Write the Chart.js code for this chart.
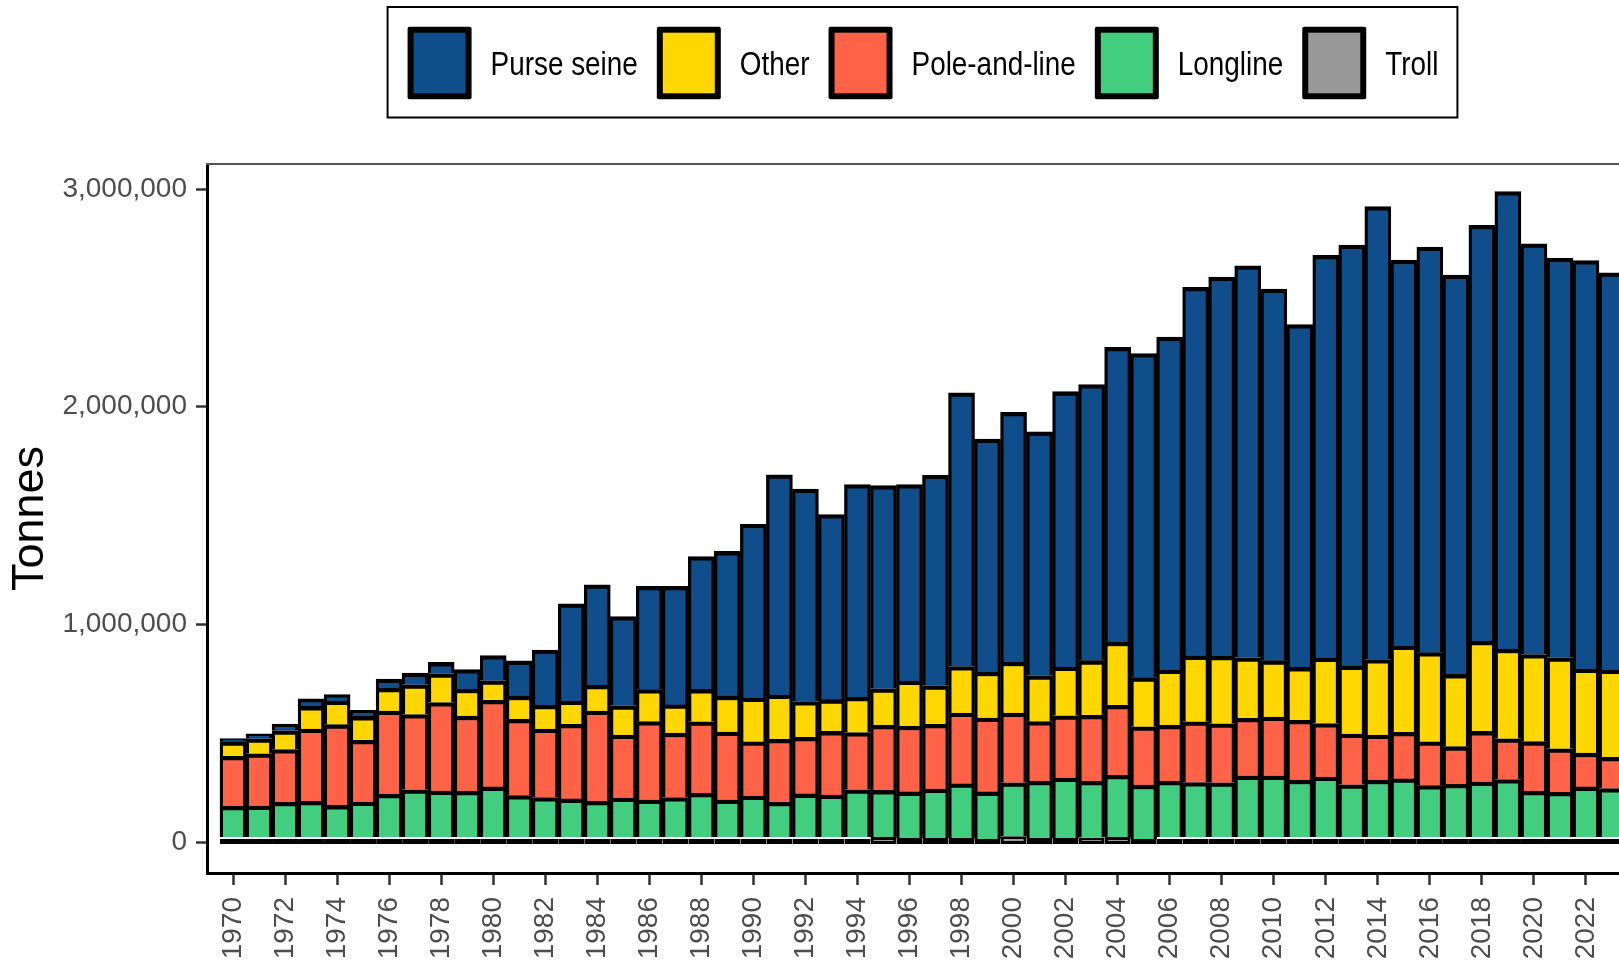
<!DOCTYPE html>
<html>
<head>
<meta charset="utf-8">
<script src="https://cdn.jsdelivr.net/npm/chart.js@4.4.1/dist/chart.umd.min.js"></script>
<style>
  html, body { margin: 0; padding: 0; background: #ffffff; overflow: hidden; }
  #wrap { position: relative; width: 1660px; height: 966px; }
  canvas { display: block; }
</style>
</head>
<body>
<div id="wrap"><canvas id="chart" width="1660" height="966"></canvas></div>
<script>
// ---- data (tonnes) ----
const years = [1970,1971,1972,1973,1974,1975,1976,1977,1978,1979,
               1980,1981,1982,1983,1984,1985,1986,1987,1988,1989,
               1990,1991,1992,1993,1994,1995,1996,1997,1998,1999,
               2000,2001,2002,2003,2004,2005,2006,2007,2008,2009,
               2010,2011,2012,2013,2014,2015,2016,2017,2018,2019,
               2020,2021,2022,2023];

const xTickYears = [1970,1972,1974,1976,1978,1980,1982,1984,1986,1988,1990,1992,1994,
                    1996,1998,2000,2002,2004,2006,2008,2010,2012,2014,2016,2018,2020,2022];

const yTickValues = [0, 1000000, 2000000, 3000000];

const purseSeine = [14000,23000,31000,35000,29000,28000,43000,54000,52000,90000,
                    116000,162000,254000,446000,462000,410000,475000,545000,610000,665000,
                    799000,1012000,976000,850000,977000,934000,903000,967000,1258000,1071000,
                    1148000,1120000,1265000,1269000,1355000,1489000,1530000,1694000,1742000,1801000,
                    1707000,1575000,1850000,1935000,2081000,1773000,1863000,1835000,1911000,2102000,
                    1887000,1836000,1876000,1825000];

const other = [67000,69000,86000,104000,109000,110000,104000,136000,132000,124000,
               90000,106000,109000,107000,118000,135000,147000,130000,149000,165000,
               201000,203000,164000,146000,162000,168000,207000,177000,214000,211000,
               234000,211000,224000,251000,290000,226000,254000,302000,310000,278000,
               259000,243000,301000,312000,347000,396000,410000,332000,414000,412000,
               400000,418000,387000,401000];

const poleAndLine = [230000,240000,243000,332000,371000,283000,383000,346000,407000,345000,
                     398000,351000,315000,343000,415000,289000,360000,296000,328000,312000,
                     249000,290000,260000,292000,263000,299000,302000,298000,325000,339000,
                     320000,274000,286000,303000,322000,268000,257000,279000,271000,265000,
                     271000,275000,246000,233000,207000,214000,201000,173000,233000,187000,
                     228000,200000,155000,143000];

const longline = [141000,142000,159000,164000,145000,161000,196000,217000,211000,210000,
                  230000,190000,181000,175000,164000,179000,170000,181000,201000,170000,
                  188000,159000,198000,193000,217000,214000,212000,225000,249000,216000,
                  246000,261000,276000,258000,283000,247000,256000,250000,249000,280000,
                  280000,261000,275000,240000,261000,267000,236000,242000,252000,264000,
                  210000,205000,230000,223000];

const troll = [0,0,0,0,0,0,0,0,0,0,
               0,0,0,0,0,0,0,0,3000,8000,
               6000,7000,6000,5000,9000,23000,18000,18000,18000,14000,
               26000,18000,18000,21000,23000,14000,8000,8000,8000,8000,
               8000,8000,8000,8000,8000,8000,8000,8000,8000,8000,
               8000,8000,8000,8000];

// ---- styling ----
const FONT = "'Liberation Sans', Arial, Helvetica, sans-serif";
const COLORS = {
  'Purse seine': '#104E8B',
  'Other': '#FFD700',
  'Pole-and-line': '#FF6347',
  'Longline': '#43CD80',
  'Troll': '#999999'
};

function points(arr) { return years.map((yr, i) => ({ x: yr, y: arr[i] })); }

const segBorder = { top: 4.3, left: 3.3, right: 3.3, bottom: 0 };

function barSet(label, arr, extra) {
  return Object.assign({
    label: label,
    data: points(arr),
    backgroundColor: COLORS[label],
    borderColor: '#000000',
    borderWidth: segBorder,
    borderSkipped: false,
    categoryPercentage: 1.0,
    barPercentage: 1.0
  }, extra || {});
}

// stack order bottom -> top ; first dataset is drawn last (on top)
const datasets = [
  barSet('Troll', troll, { base: -9000, minBarLength: 5, inflateAmount: 0,
                           borderWidth: { top: 3, left: 3.3, right: 3.3, bottom: 3 } }),
  barSet('Longline', longline),
  barSet('Pole-and-line', poleAndLine),
  barSet('Other', other),
  barSet('Purse seine', purseSeine)
];

// legend drawn as a boxed key above the panel, centred on the panel
const boxedLegend = {
  id: 'boxedLegend',
  afterDraw(chart) {
    const ctx = chart.ctx;
    const ca = chart.chartArea;
    const items = chart.data.datasets.slice().reverse();
    const fontPx = 34, sx = 0.82;
    const sw = 64, sh = 72.6, gapA = 19, gapB = 19, padL = 20, padR = 19;
    ctx.save();
    ctx.font = fontPx + 'px ' + FONT;
    const widths = items.map(d => ctx.measureText(d.label).width * sx);
    let total = padL + padR;
    widths.forEach((w, i) => { total += sw + gapA + w + (i < items.length - 1 ? gapB : 0); });
    const cx = (ca.left + ca.right) / 2;
    const boxL = cx - total / 2, boxT = 7, boxH = 110.5;
    ctx.lineWidth = 2;
    ctx.strokeStyle = '#000000';
    ctx.strokeRect(boxL, boxT, total, boxH);
    let x = boxL + padL;
    const sy = 26.7, cy = 65.5;
    items.forEach((d, i) => {
      ctx.fillStyle = '#000000';
      ctx.beginPath();
      if (ctx.roundRect) ctx.roundRect(x, sy, sw, sh, 2); else ctx.rect(x, sy, sw, sh);
      ctx.fill();
      ctx.fillStyle = d.backgroundColor;
      ctx.fillRect(x + 6, sy + 6, sw - 12, sh - 12);
      x += sw + gapA;
      ctx.save();
      ctx.translate(x, cy);
      ctx.scale(sx, 1);
      ctx.fillStyle = '#000000';
      ctx.textAlign = 'left';
      ctx.textBaseline = 'middle';
      ctx.fillText(d.label, 0, 0);
      ctx.restore();
      x += widths[i] + gapB;
    });
    ctx.restore();
  }
};

// thin top edge of the panel
const panelTop = {
  id: 'panelTop',
  afterDraw(chart) {
    const ctx = chart.ctx, ca = chart.chartArea;
    ctx.save();
    ctx.strokeStyle = '#555555';
    ctx.lineWidth = 2;
    ctx.beginPath();
    ctx.moveTo(ca.left - 1, ca.top);
    ctx.lineTo(ca.right, ca.top);
    ctx.stroke();
    ctx.restore();
  }
};

new Chart(document.getElementById('chart'), {
  type: 'bar',
  data: { datasets: datasets },
  options: {
    responsive: false,
    animation: false,
    devicePixelRatio: 1,
    layout: { padding: { top: 164, right: 22, left: 0, bottom: 0 } },
    plugins: {
      legend: { display: false },
      tooltip: { enabled: false }
    },
    scales: {
      x: {
        type: 'linear',
        stacked: true,
        min: 1969,
        max: 2024,
        offset: false,
        afterBuildTicks: s => { s.ticks = xTickYears.map(v => ({ value: v })); },
        afterFit: s => { s.height = 93; },
        grid: { display: true, offset: false, drawOnChartArea: false, drawTicks: true, tickLength: 12, tickColor: '#333333', tickWidth: 2.5 },
        border: { display: true, color: '#000000', width: 3 },
        ticks: {
          autoSkip: false, minRotation: 90, maxRotation: 90,
          color: '#4D4D4D', font: { family: FONT, size: 28 }, padding: 12,
          callback: v => String(v)
        }
      },
      y: {
        stacked: true,
        min: -142400,
        max: 3114900,
        afterBuildTicks: s => { s.ticks = yTickValues.map(v => ({ value: v })); },
        afterFit: s => { s.width = 207; },
        grid: { display: true, drawOnChartArea: false, drawTicks: true, tickLength: 11, tickColor: '#333333', tickWidth: 2.5 },
        border: { display: true, color: '#000000', width: 3 },
        ticks: {
          color: '#4D4D4D', font: { family: FONT, size: 28 }, padding: 9,
          callback: v => Number(v).toLocaleString('en-US')
        },
        title: {
          display: true, text: 'Tonnes', color: '#000000',
          font: { family: FONT, size: 45 }, padding: { top: 4, bottom: 0 }
        }
      }
    }
  },
  plugins: [boxedLegend, panelTop]
});
</script>
</body>
</html>
